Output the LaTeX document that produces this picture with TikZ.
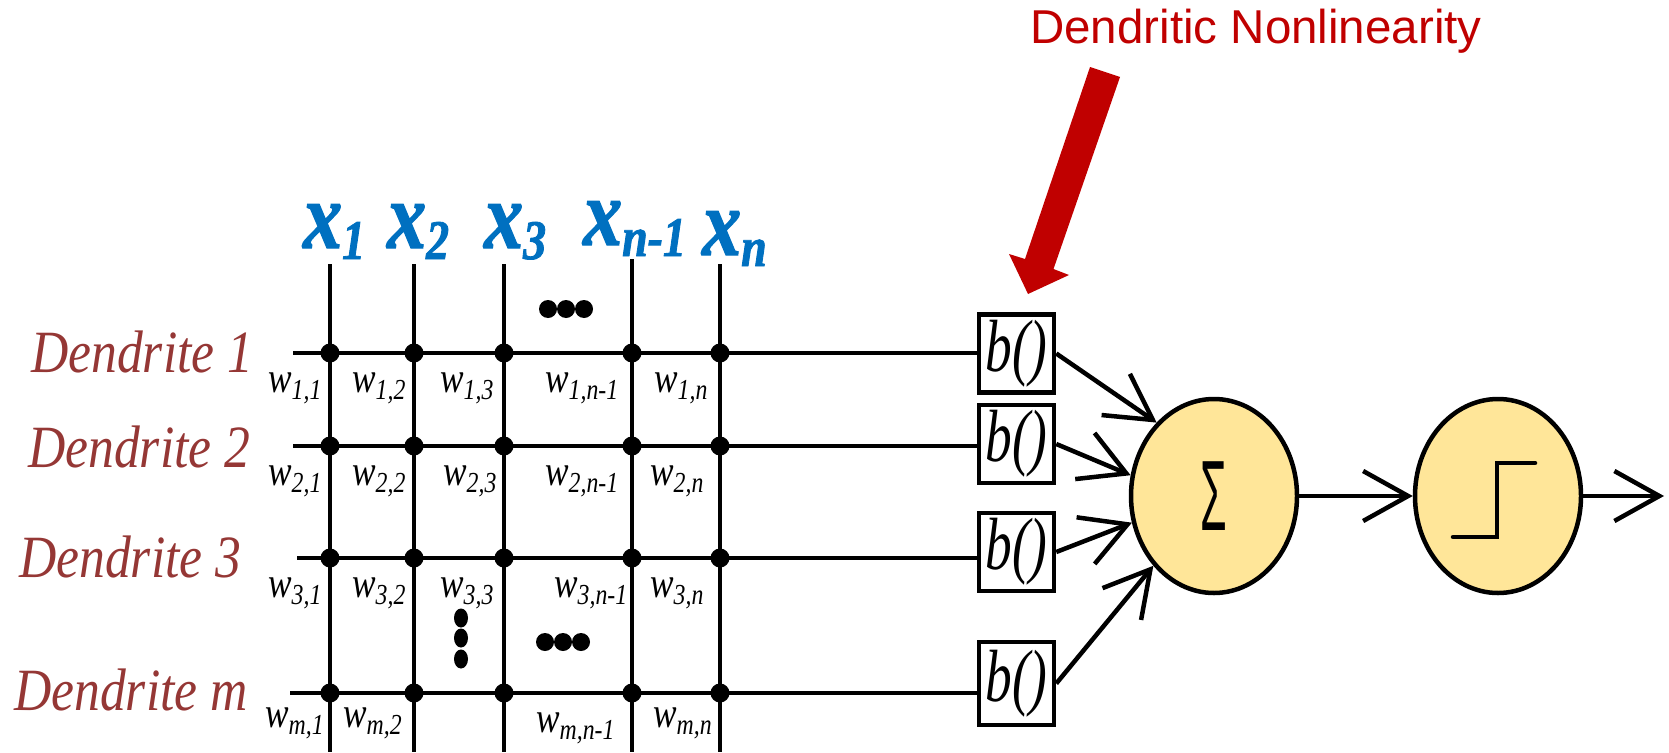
\documentclass[tikz,border=0pt]{standalone}
\usepackage{fontspec}
\setmainfont{Liberation Serif}
\newfontfamily\serifcond{Liberation Serif}[FakeStretch=0.82]
\newfontfamily\dendcond{Liberation Serif}[FakeStretch=0.86]
\newfontfamily\bcond{Liberation Serif}[FakeStretch=0.72]
\newfontfamily\xcond{Liberation Serif}[FakeStretch=0.82, FakeBold=1.5]
\newfontfamily\sansf{Liberation Sans}
\usetikzlibrary{arrows.meta,shapes.geometric}
\definecolor{dendred}{RGB}{149,55,53}
\definecolor{xblue}{RGB}{0,112,192}
\definecolor{annred}{RGB}{192,0,0}
\definecolor{neuronfill}{RGB}{255,230,153}
\newcommand\wlab[1]{w\raisebox{-7pt}{\fontsize{29}{29}\selectfont #1}}
\newcommand\xlab[1]{x\raisebox{-11pt}{\fontsize{56}{56}\selectfont #1}}
\tikzset{
  wire/.style={line width=4.5pt},
  gdot/.style={circle, fill=black, inner sep=0pt, minimum size=19pt},
  edot/.style={ellipse, fill=black, inner sep=0pt, minimum width=17pt, minimum height=19pt},
  dlabel/.style={anchor=base west, inner sep=0pt, text=dendred, font=\dendcond\itshape\fontsize{60}{60}\selectfont},
  wlabel/.style={anchor=base west, inner sep=0pt, font=\serifcond\itshape\fontsize{43}{43}\selectfont},
  xlabel/.style={anchor=base west, inner sep=0pt, text=xblue, font=\xcond\bfseries\itshape\fontsize{95}{95}\selectfont},
  bbox/.style={draw, line width=4.5pt, minimum width=75pt, minimum height=78pt, inner sep=0pt, font=\bcond\itshape\fontsize{74}{74}\selectfont},
  neuron/.style={ellipse, draw, line width=4.5pt, fill=neuronfill, minimum width=166pt, minimum height=194pt, inner sep=0pt},
  sarrow/.style={line width=4.5pt, -{Straight Barb[length=45pt, width=50pt]}},
}
\begin{document}
\begin{tikzpicture}[x=1pt,y=-1pt]
\useasboundingbox (0,0) rectangle (1669,752);

% annotation
\node[anchor=base west, inner sep=0pt, text=annred, font=\sansf\fontsize{47.5}{47.5}\selectfont] (ann) at (1030,44) {Dendritic Nonlinearity};
\fill[annred] (1090,67)--(1120,77)--(1053.5,269)--(1069,275)--(1028,294)--(1009,254)--(1025,259)--cycle;

% column coordinates
\coordinate (c1t) at (330,264); \coordinate (c1b) at (330,752);
\coordinate (c2t) at (414,264); \coordinate (c2b) at (414,752);
\coordinate (c3t) at (504,264); \coordinate (c3b) at (504,752);
\coordinate (c4t) at (632,259); \coordinate (c4b) at (632,752);
\coordinate (c5t) at (720,264); \coordinate (c5b) at (720,752);
% row starts
\coordinate (r1s) at (293,353);
\coordinate (r2s) at (293,446);
\coordinate (r3s) at (297,558);
\coordinate (r4s) at (290,693);

% b() boxes
\node[bbox] (b1) at (1016.5,353.5) {b()};
\node[bbox] (b2) at (1016.5,444) {b()};
\node[bbox] (b3) at (1016.5,552) {b()};
\node[bbox, minimum height=83pt] (b4) at (1016.5,683.5) {b()};

% wires
\foreach \c in {1,...,5} \draw[wire] (c\c t) -- (c\c b);
\draw[wire] (r1s) -- (r1s -| b1.west);
\draw[wire] (r2s) -- (r2s -| b2.west);
\draw[wire] (r3s) -- (r3s -| b3.west);
\draw[wire] (r4s) -- (r4s -| b4.west);

% grid dots
\foreach \r/\y in {1/353,2/446,3/558,4/693}
  \foreach \c/\x in {1/330,2/414,3/504,4/632,5/720}
    \node[gdot] (d\r\c) at (\x,\y) {};

% ellipsis dots
\foreach \i/\x in {1/548,2/566,3/584} \node[gdot, minimum size=18pt] (td\i) at (\x,309) {};
\foreach \i/\x in {1/545,2/563,3/581} \node[gdot, minimum size=18pt] (md\i) at (\x,642) {};
\foreach \i/\y in {1/618,2/638,3/659} \node[edot, minimum width=14pt] (vd\i) at (461,\y) {};

% x labels
\node[xlabel] (x1) at (303,248) {\xlab{1}};
\node[xlabel] (x2) at (387,248) {\xlab{2}};
\node[xlabel] (x3) at (484,248) {\xlab{3}};
\node[xlabel] (x4) at (583,245) {\xlab{n-1}};
\node[xlabel] (x5) at (702,255) {\xlab{n}};

% dendrite labels
\node[dlabel] (dl1) at (31,372) {Dendrite 1};
\node[dlabel] (dl2) at (28,467) {Dendrite 2};
\node[dlabel] (dl3) at (19,577) {Dendrite 3};
\node[dlabel] (dl4) at (14,710) {Dendrite m};

% weight labels
\node[wlabel] at (268,392) {\wlab{1,1}};
\node[wlabel] at (352,392) {\wlab{1,2}};
\node[wlabel] at (440,392) {\wlab{1,3}};
\node[wlabel] at (545,392) {\wlab{1,n-1}};
\node[wlabel] at (654,392) {\wlab{1,n}};
\node[wlabel] at (268,485) {\wlab{2,1}};
\node[wlabel] at (352,485) {\wlab{2,2}};
\node[wlabel] at (443,485) {\wlab{2,3}};
\node[wlabel] at (545,485) {\wlab{2,n-1}};
\node[wlabel] at (650,485) {\wlab{2,n}};
\node[wlabel] at (268,597) {\wlab{3,1}};
\node[wlabel] at (352,597) {\wlab{3,2}};
\node[wlabel] at (440,597) {\wlab{3,3}};
\node[wlabel] at (554,597) {\wlab{3,n-1}};
\node[wlabel] at (650,597) {\wlab{3,n}};
\node[wlabel] at (265,727) {\wlab{m,1}};
\node[wlabel] at (343,727) {\wlab{m,2}};
\node[wlabel] at (536,732) {\wlab{m,n-1}};
\node[wlabel] at (653,727) {\wlab{m,n}};

% neurons
\node[neuron, font=\sansf\fontsize{100}{100}\selectfont] (sig) at (1214,496) {\scalebox{0.43}[1]{Σ}};
\node[neuron] (step) at (1498,496) {};
\draw[line width=4.5pt, line cap=round] (1453,537) -- (1497,537) -- (1497,463) -- (1535,463);
\coordinate (out) at (1664,496);

% arrows
\draw[sarrow] (b1.east) -- (sig.128.5);
\draw[sarrow] (b2.east) -- (sig.166.6);
\draw[sarrow] (b3.east) -- (sig.198.6);
\draw[sarrow] (b4.east) -- (sig.229.9);
\draw[sarrow] (sig.east) -- (step.west);
\draw[sarrow] (step.east) -- (out);
\end{tikzpicture}
\end{document}
